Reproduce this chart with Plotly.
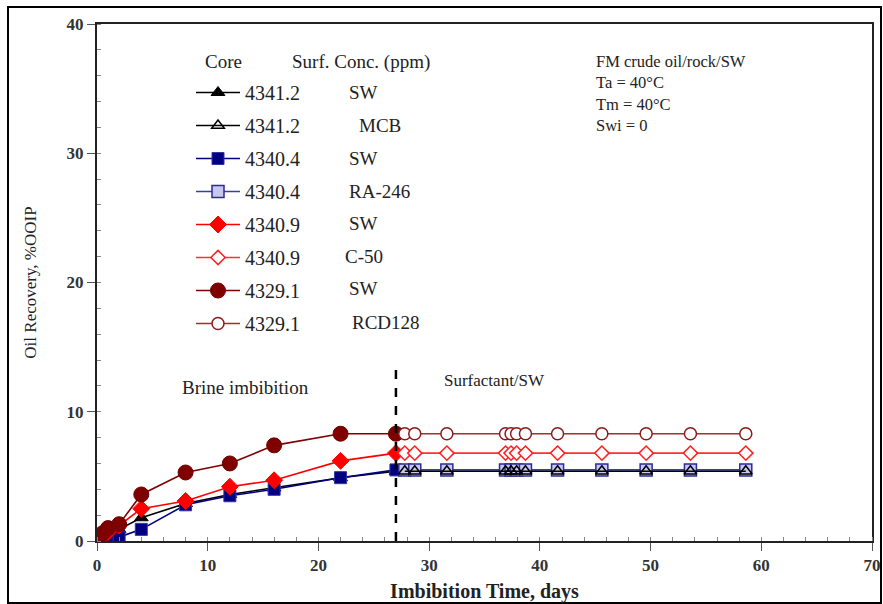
import plotly.graph_objects as go

# ---- data ----
brine_days = [0, 0.5, 1, 2, 4, 8, 12, 16, 22, 27]
surf_days = [27.8, 28.7, 31.6, 36.9, 37.4, 37.9, 38.7, 41.6, 45.6, 49.6, 53.6, 58.6]

rec_43412_sw = [0, 0.1, 0.3, 0.9, 1.8, 2.9, 3.6, 4.1, 4.9, 5.4]
rec_43404_sw = [0, 0, 0.1, 0.3, 0.9, 2.8, 3.5, 4.0, 4.9, 5.5]
rec_43409_sw = [0.2, 0.4, 0.7, 1.2, 2.5, 3.1, 4.2, 4.7, 6.2, 6.8]
rec_43291_sw = [0.2, 0.6, 1.0, 1.3, 3.6, 5.3, 6.0, 7.4, 8.3, 8.3]

rec_43412_mcb = [5.4] * 12
rec_43404_ra = [5.5] * 12
rec_43409_c50 = [6.8] * 12
rec_43291_rcd = [8.3] * 12

cores = ["4341.2", "4341.2", "4340.4", "4340.4", "4340.9", "4340.9", "4329.1", "4329.1"]
concs = ["SW", "MCB", "SW", "RA-246", "SW", "C-50", "SW", "RCD128"]
conditions = ["FM crude oil/rock/SW", "Ta = 40°C", "Tm = 40°C", "Swi = 0"]

x_ticks = [0, 10, 20, 30, 40, 50, 60, 70]
y_ticks = [0, 10, 20, 30, 40]

FONT = "Liberation Serif, Times New Roman, serif"

# ---- geometry helpers (pixel -> paper) ----
L, R, T, B = 97, 872, 24, 541
W, H = 883, 604
def px(x):
    return (x - L) / (R - L)
def py(y):
    return (B - y) / (B - T)

fig = go.Figure()

series = [
    (brine_days, rec_43412_sw, dict(symbol="triangle-up", size=12, color="black",
                                     line=dict(color="black", width=1)), "black"),
    (surf_days, rec_43412_mcb, dict(symbol="triangle-up", size=11, color="rgba(255,255,255,0)",
                                    line=dict(color="black", width=1.5)), "black"),
    (brine_days, rec_43404_sw, dict(symbol="square", size=12, color="#000080",
                                    line=dict(color="#3333aa", width=1)), "#000080"),
    (surf_days, rec_43404_ra, dict(symbol="square", size=12, color="#c8c8ee",
                                   line=dict(color="#2b2b99", width=1.5)), "#3b3bb0"),
    (brine_days, rec_43409_sw, dict(symbol="diamond", size=13, color="#ff0000",
                                    line=dict(color="#ff0000", width=1)), "#ff0000"),
    (surf_days, rec_43409_c50, dict(symbol="diamond", size=11, color="white",
                                    line=dict(color="#ff2020", width=1.5)), "#ff3030"),
    (brine_days, rec_43291_sw, dict(symbol="circle", size=15, color="#800000",
                                    line=dict(color="#6a0000", width=1)), "#800000"),
    (surf_days, rec_43291_rcd, dict(symbol="circle", size=12, color="white",
                                    line=dict(color="#8b1a1a", width=1.5)), "#a03030"),
]

# draw order: open markers after filled, square before triangle
order = [0, 2, 4, 6, 3, 1, 5, 7]

traces = []
for i, (xs, ys, mk, lc) in enumerate(series):
    traces.append(go.Scatter(
        x=xs, y=ys, mode="lines+markers", name=cores[i],
        legendgroup="g%d" % i, legendrank=i + 1,
        marker=mk, line=dict(color=lc, width=1.6),
        showlegend=True,
    ))
for i in order:
    fig.add_trace(traces[i])

# phase divider
fig.add_trace(go.Scatter(x=[27, 27], y=[0, 13.4], mode="lines",
                         line=dict(color="black", width=2.5, dash="dash"),
                         showlegend=False, hoverinfo="skip"))

fig.update_layout(
    width=W, height=H,
    margin=dict(l=L, r=W - R, t=T, b=H - B),
    plot_bgcolor="white", paper_bgcolor="white",
    font=dict(family=FONT, color="#222"),
    showlegend=True,
    legend=dict(
        x=px(191), y=py(73), xanchor="left", yanchor="top",
        font=dict(family=FONT, size=20, color="#222"),
        itemwidth=44, tracegroupgap=4, bgcolor="rgba(0,0,0,0)",
        traceorder="grouped",
    ),
)

fig.update_xaxes(
    range=[0, 70], tickvals=x_ticks, ticktext=["<b>%d</b>" % v for v in x_ticks],
    showline=True, linecolor="#222", linewidth=2, mirror=True,
    ticks="outside", ticklen=8, tickwidth=1, tickcolor="#555",
    tickfont=dict(family=FONT, size=17, color="#333"),
    minor=dict(dtick=2, ticks="inside", ticklen=4, tickcolor="#888", tickwidth=1),
    showgrid=False, zeroline=False, automargin=False,
    title=dict(text="<b>Imbibition Time, days</b>", font=dict(family=FONT, size=20, color="#222"),
               standoff=10),
)
fig.update_yaxes(
    range=[0, 40], tickvals=y_ticks, ticktext=["<b>%d</b>" % v for v in y_ticks],
    showline=True, linecolor="#222", linewidth=2, mirror=True,
    ticks="outside", ticklen=8, tickwidth=1, tickcolor="#555",
    tickfont=dict(family=FONT, size=17, color="#333"),
    minor=dict(dtick=2, ticks="inside", ticklen=4, tickcolor="#888", tickwidth=1),
    showgrid=False, zeroline=False, automargin=False,
    title=dict(text="Oil Recovery, %OOIP", font=dict(family=FONT, size=17, color="#222"),
               standoff=26),
)

# legend header and concentration column
fig.add_annotation(xref="paper", yref="paper", x=px(203), y=py(62), xanchor="left", yanchor="middle",
                   text="Core", showarrow=False, font=dict(family=FONT, size=19, color="#222"))
fig.add_annotation(xref="paper", yref="paper", x=px(290), y=py(62), xanchor="left", yanchor="middle",
                   text="Surf. Conc. (ppm)", showarrow=False, font=dict(family=FONT, size=19, color="#222"))
conc_x = [347, 357, 347, 347, 347, 343, 347, 350]
row_y = [93, 126, 158, 191, 223, 256, 288, 322]
for c, cx, ry in zip(concs, conc_x, row_y):
    fig.add_annotation(xref="paper", yref="paper", x=px(cx), y=py(ry), xanchor="left", yanchor="middle",
                       text=c, showarrow=False, font=dict(family=FONT, size=19, color="#222"))

# conditions box
fig.add_annotation(xref="paper", yref="paper", x=px(594), y=py(50), xanchor="left", yanchor="top",
                   align="left", showarrow=False, text="<br>".join(conditions),
                   font=dict(family=FONT, size=16.5, color="#222"))

# phase labels
fig.add_annotation(x=13.4, y=11.9, text="Brine imbibition", showarrow=False,
                   font=dict(family=FONT, size=19, color="#222"))
fig.add_annotation(x=35.9, y=12.4, text="Surfactant/SW", showarrow=False,
                   font=dict(family=FONT, size=17, color="#222"))

# outer frame
fig.add_shape(type="rect", xref="paper", yref="paper",
              x0=px(8), x1=px(881), y0=py(603), y1=py(7),
              line=dict(color="black", width=2), fillcolor="rgba(0,0,0,0)")

fig.write_html("out.html")
